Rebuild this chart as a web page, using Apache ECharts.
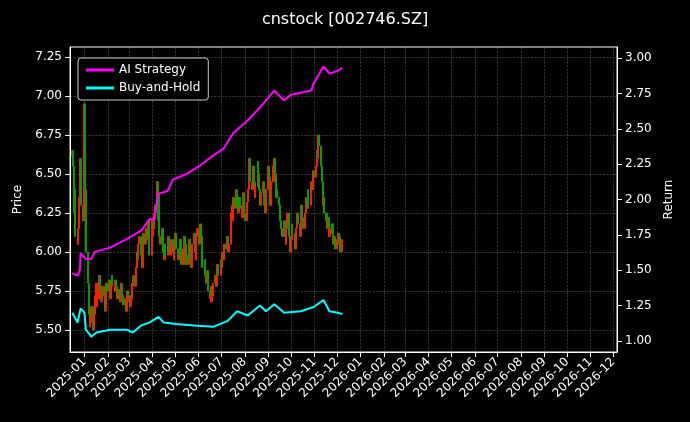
<!DOCTYPE html>
<html>
<head>
<meta charset="utf-8">
<script src="https://cdn.jsdelivr.net/npm/echarts@6/dist/echarts.min.js"></script>
<style>html,body{margin:0;background:#000}#main{width:690px;height:422px}</style>
</head>
<body>
<div id="main"></div>
<script>
// daily closes from 2024-12-16 (weekdays)
var closes = [
	6.65,6.55,6.40,6.25,6.10,6.05,6.15,6.35,6.60,6.30,
	6.20,6.70,6.95,6.40,6.00,5.80,5.60,5.52,5.55,5.65,
	5.50,5.60,5.72,5.65,5.80,5.70,5.85,5.75,5.68,5.78,
	5.72,5.62,5.70,5.80,5.75,5.82,5.70,5.78,5.85,5.80,
	5.75,5.82,5.78,5.70,5.76,5.68,5.74,5.80,5.72,5.66,
	5.70,5.62,5.68,5.75,5.72,5.65,5.70,5.80,5.85,5.78,
	5.90,6.00,5.95,6.05,6.10,5.98,5.90,6.02,6.12,6.05,
	6.15,6.08,6.20,6.05,5.98,6.10,6.20,6.15,6.25,6.30,
	6.45,6.38,6.20,6.10,6.05,6.15,6.00,5.95,6.05,5.98,
	6.05,6.10,6.02,5.98,6.08,6.00,5.95,6.05,6.12,6.02,
	5.95,6.00,6.08,5.98,5.92,6.02,6.10,6.05,5.98,5.92,
	6.00,6.08,5.95,5.90,6.05,6.12,6.00,5.95,6.10,6.15,
	6.05,6.18,6.10,5.98,5.90,5.95,5.85,5.80,5.88,5.75,
	5.70,5.68,5.78,5.72,5.80,5.85,5.78,5.88,5.92,5.85,
	5.95,5.90,6.00,5.95,6.05,6.02,6.08,6.10,6.00,6.05,
	6.25,6.30,6.20,6.35,6.28,6.40,6.30,6.25,6.35,6.28,
	6.22,6.30,6.38,6.25,6.20,6.32,6.40,6.50,6.60,6.45,
	6.40,6.55,6.45,6.35,6.42,6.58,6.50,6.40,6.30,6.38,
	6.45,6.35,6.30,6.25,6.40,6.55,6.48,6.38,6.30,6.45,
	6.55,6.60,6.50,6.40,6.35,6.30,6.25,6.20,6.15,6.10,
	6.20,6.10,6.05,6.15,6.25,6.10,6.00,6.08,6.18,6.12,
	6.05,6.02,6.15,6.25,6.18,6.10,6.20,6.30,6.22,6.15,
	6.25,6.35,6.28,6.40,6.30,6.38,6.45,6.40,6.52,6.48,
	6.55,6.65,6.60,6.75,6.68,6.55,6.45,6.30,6.35,6.25,
	6.20,6.15,6.22,6.10,6.15,6.18,6.12,6.05,6.10,6.02,
	6.08,6.12,6.05,6.10,6.00,6.08
];
var firstOpen = 6.62;
var aiIdx = [0,5,8,9,14,19,22,36,52,65,74,79,81,90,95,109,121,134,144,153,166,178,191,200,207,226,229,238,244,251,255];
var aiVal = [1.48,1.46,1.50,1.62,1.58,1.58,1.63,1.66,1.72,1.78,1.86,1.86,2.04,2.06,2.14,2.18,2.24,2.31,2.36,2.47,2.56,2.65,2.77,2.70,2.74,2.77,2.82,2.94,2.89,2.91,2.93];
var bhIdx = [0,5,7,9,12,14,19,24,36,52,58,65,74,82,87,99,115,134,147,156,166,178,184,191,200,216,229,238,244,251,255];
var bhVal = [1.20,1.13,1.12,1.23,1.20,1.08,1.03,1.06,1.08,1.08,1.06,1.11,1.13,1.17,1.13,1.12,1.11,1.10,1.14,1.21,1.18,1.25,1.21,1.26,1.20,1.21,1.24,1.29,1.21,1.20,1.19];
var priceTicks = [5.50,5.75,6.00,6.25,6.50,6.75,7.00,7.25];
var returnTicks = [1.00,1.25,1.50,1.75,2.00,2.25,2.50,2.75,3.00];

// weekday dates
var dates = [];
var d = new Date(Date.UTC(2024, 11, 16));
while (dates.length < closes.length) {
	var wd = d.getUTCDay();
	if (wd !== 0 && wd !== 6) dates.push(d.getTime());
	d = new Date(d.getTime() + 86400000);
}
var candles = closes.map(function(c, i) {
	var o = i === 0 ? firstOpen : closes[i - 1];
	return [dates[i], o, c, Math.min(o, c), Math.max(o, c)];
});
var aiData = aiIdx.map(function(k, i) { return [dates[k], aiVal[i]]; });
var bhData = bhIdx.map(function(k, i) { return [dates[k], bhVal[i]]; });
var monthTicks = [];
for (var m = 0; m < 24; m++) monthTicks.push(Date.UTC(2025, m, 1));

var gridLine = { show: true, lineStyle: { color: '#555', type: 'dashed', width: 0.6 } };
var txt = { color: '#fff', fontSize: 12, fontFamily: 'DejaVu Sans' };

var myChart = echarts.init(document.getElementById('main'));
var option = {
	backgroundColor: '#000',
	title: { text: 'cnstock [002746.SZ]', left: 'center', top: 7,
		textStyle: { color: '#fff', fontSize: 16, fontWeight: 'normal', fontFamily: 'DejaVu Sans' } },
	legend: {
		left: 78, top: 58, orient: 'vertical', itemGap: 6, itemWidth: 28, itemHeight: 3,
		backgroundColor: '#000', borderColor: '#ccc', borderWidth: 1, borderRadius: 3, padding: [6, 8],
		textStyle: txt, icon: 'rect',
		data: ['AI Strategy', 'Buy-and-Hold']
	},
	grid: { left: 70, right: 73, top: 47, bottom: 70, show: true, borderColor: '#fff', borderWidth: 1, backgroundColor: '#000' },
	xAxis: {
		type: 'value', min: Date.UTC(2024, 11, 13), max: Date.UTC(2026, 11, 6),
		axisLine: { lineStyle: { color: '#fff' } },
		axisTick: { show: true, customValues: monthTicks, lineStyle: { color: '#fff' } },
		axisLabel: Object.assign({ customValues: monthTicks, rotate: 45, hideOverlap: false,
			formatter: function(v) { var t = new Date(v); var mm = t.getUTCMonth() + 1; return t.getUTCFullYear() + '-' + (mm < 10 ? '0' : '') + mm; } }, txt),
		splitLine: gridLine
	},
	yAxis: [{
		type: 'value', min: 5.359, max: 7.314, name: 'Price', nameLocation: 'middle', nameGap: 46,
		nameTextStyle: txt,
		axisLine: { show: true, lineStyle: { color: '#fff' } },
		axisTick: { show: true, customValues: priceTicks, lineStyle: { color: '#fff' } },
		axisLabel: Object.assign({ customValues: priceTicks, formatter: function(v) { return v.toFixed(2); } }, txt),
		splitLine: gridLine
	}, {
		type: 'value', min: 0.922, max: 3.078, name: 'Return', nameLocation: 'middle', nameGap: 45,
		nameTextStyle: txt,
		axisLine: { show: true, lineStyle: { color: '#fff' } },
		axisTick: { show: true, customValues: returnTicks, lineStyle: { color: '#fff' } },
		axisLabel: Object.assign({ customValues: returnTicks, formatter: function(v) { return v.toFixed(2); } }, txt),
		splitLine: { show: false }
	}],
	series: [{
		type: 'candlestick', data: candles, barWidth: 1.6,
		itemStyle: { color: '#ff1a00', color0: '#00a000', borderColor: '#ff1a00', borderColor0: '#00a000', borderWidth: 1 }
	}, {
		name: 'AI Strategy', type: 'line', yAxisIndex: 1, data: aiData, showSymbol: false,
		lineStyle: { color: '#ff00ff', width: 2 }, itemStyle: { color: '#ff00ff' }
	}, {
		name: 'Buy-and-Hold', type: 'line', yAxisIndex: 1, data: bhData, showSymbol: false,
		lineStyle: { color: '#00ffff', width: 2 }, itemStyle: { color: '#00ffff' }
	}]
};
if (option && typeof option === "object") {
	myChart.setOption(option, true);
}
</script>
</body>
</html>
